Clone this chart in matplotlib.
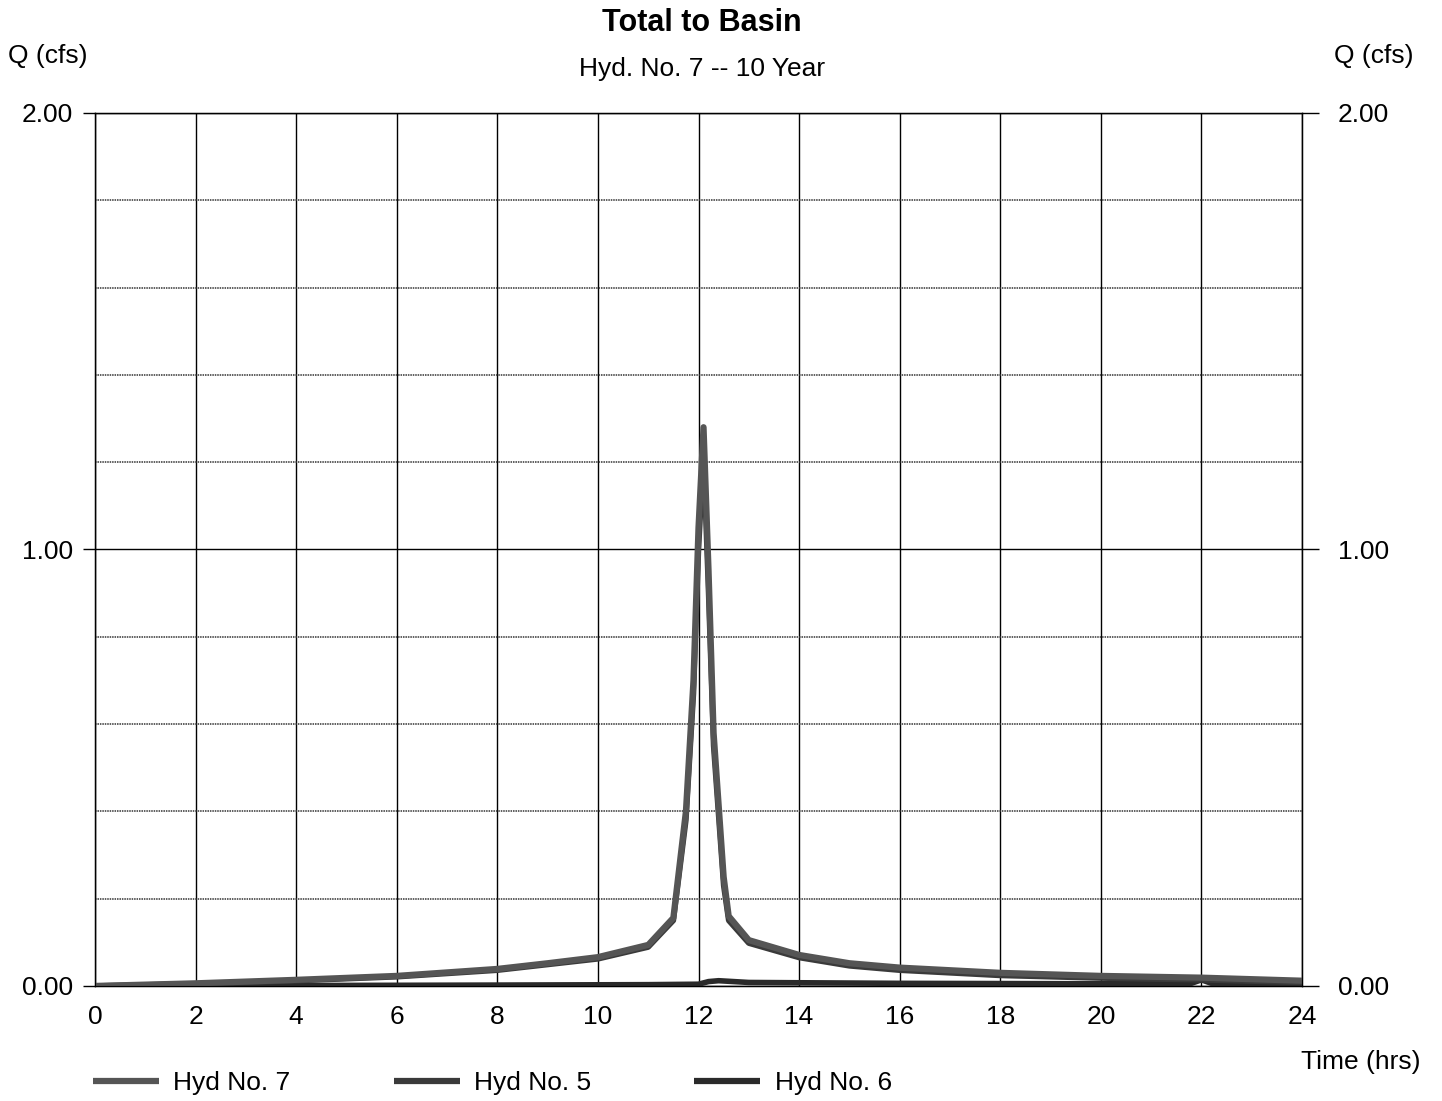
import matplotlib.pyplot as plt
from matplotlib.lines import Line2D

plt.rcParams['font.family'] = ['Liberation Sans', 'DejaVu Sans']

# Hyd No. 7 (total), Hyd No. 5, Hyd No. 6
t7 = [0, 2, 4, 6, 8, 9, 10, 11, 11.5, 11.75, 11.9, 12.0, 12.1, 12.2, 12.3,
      12.5, 12.6, 13, 14, 15, 16, 18, 20, 22, 24]
q7 = [0.0, 0.006, 0.014, 0.023, 0.039, 0.052, 0.066, 0.094, 0.156, 0.40,
      0.70, 1.05, 1.28, 0.95, 0.58, 0.25, 0.16, 0.105, 0.071, 0.052, 0.042,
      0.030, 0.023, 0.019, 0.012]

t5 = [0, 2, 4, 6, 8, 9, 10, 11, 11.5, 11.75, 11.9, 12.0, 12.1, 12.2, 12.3,
      12.5, 12.6, 13, 14, 15, 16, 18, 20, 22, 24]
q5 = [0.0, 0.005, 0.012, 0.021, 0.036, 0.049, 0.062, 0.089, 0.150, 0.38,
      0.67, 1.00, 1.22, 0.90, 0.55, 0.23, 0.15, 0.098, 0.065, 0.046, 0.036,
      0.024, 0.018, 0.014, 0.008]

t6 = [0, 4, 8, 11, 12.0, 12.2, 12.4, 13, 16, 20, 21.8, 22.0, 22.2, 24]
q6 = [0.0, 0.001, 0.002, 0.003, 0.004, 0.010, 0.012, 0.008, 0.006, 0.005,
      0.006, 0.014, 0.006, 0.003]

x_ticks = list(range(0, 25, 2))
y_ticks = [0.0, 1.0, 2.0]
y_minor = [0.2, 0.4, 0.6, 0.8, 1.2, 1.4, 1.6, 1.8]

fig = plt.figure(figsize=(14.42, 11.01), dpi=100)
ax = fig.add_axes([0.0659, 0.1045, 0.837, 0.7929])

# grid
for x in x_ticks:
    ax.axvline(x, color='black', lw=1.0, zorder=1)
for y in y_ticks:
    ax.axhline(y, color='black', lw=1.0, zorder=1)
for y in y_minor:
    ax.axhline(y, color='#333333', lw=1.1, ls=(0, (1.0, 0.6)), zorder=1)

ax.plot(t6, q6, color='#2a2a2a', lw=4.0, zorder=3, solid_capstyle='butt')
ax.plot(t5, q5, color='#3a3a3a', lw=4.0, zorder=3, solid_capstyle='butt')
ax.plot(t7, q7, color='#555555', lw=4.5, zorder=4, solid_capstyle='butt')

ax.set_xlim(0, 24)
ax.set_ylim(0, 2)
ax.set_xticks(x_ticks)
ax.set_yticks(y_ticks)
ax.set_yticklabels([f"{v:.2f}" for v in y_ticks])
ax.tick_params(axis='y', direction='out', length=9, width=1.0,
               labelsize=19, left=True, right=False, labelleft=True,
               labelright=False, pad=7)
ax.tick_params(axis='x', length=0, labelsize=19, pad=14)
for s in ax.spines.values():
    s.set_linewidth(1.0)

# right-hand Q axis
ax2 = ax.twinx()
ax2.set_ylim(0, 2)
ax2.set_yticks(y_ticks)
ax2.set_yticklabels([f"{v:.2f}" for v in y_ticks])
ax2.tick_params(axis='y', direction='out', length=12, width=1.0,
                labelsize=19, pad=14)

fig.text(0.487, 0.979, "Total to Basin", ha='center', va='center',
         fontsize=22, fontweight='bold')
fig.text(0.487, 0.937, "Hyd. No. 7 -- 10 Year", ha='center', va='center', fontsize=19)
fig.text(0.033, 0.949, "Q (cfs)", ha='center', va='center', fontsize=19)
fig.text(0.953, 0.949, "Q (cfs)", ha='center', va='center', fontsize=19)
fig.text(0.944, 0.035, "Time (hrs)", ha='center', va='center', fontsize=19)

handles = [Line2D([], [], color='#555555', lw=4.5, solid_capstyle='butt'),
           Line2D([], [], color='#3a3a3a', lw=4.5, solid_capstyle='butt'),
           Line2D([], [], color='#2a2a2a', lw=4.5, solid_capstyle='butt')]
labels = ["Hyd No. 7", "Hyd No. 5", "Hyd No. 6"]
fig.legend(handles, labels, ncol=3, loc='center left',
           bbox_to_anchor=(0.048, 0.016), frameon=False, fontsize=19,
           handlelength=2.5, handletextpad=0.55, columnspacing=3.9)

fig.savefig("out.png", dpi=100, facecolor='white')
